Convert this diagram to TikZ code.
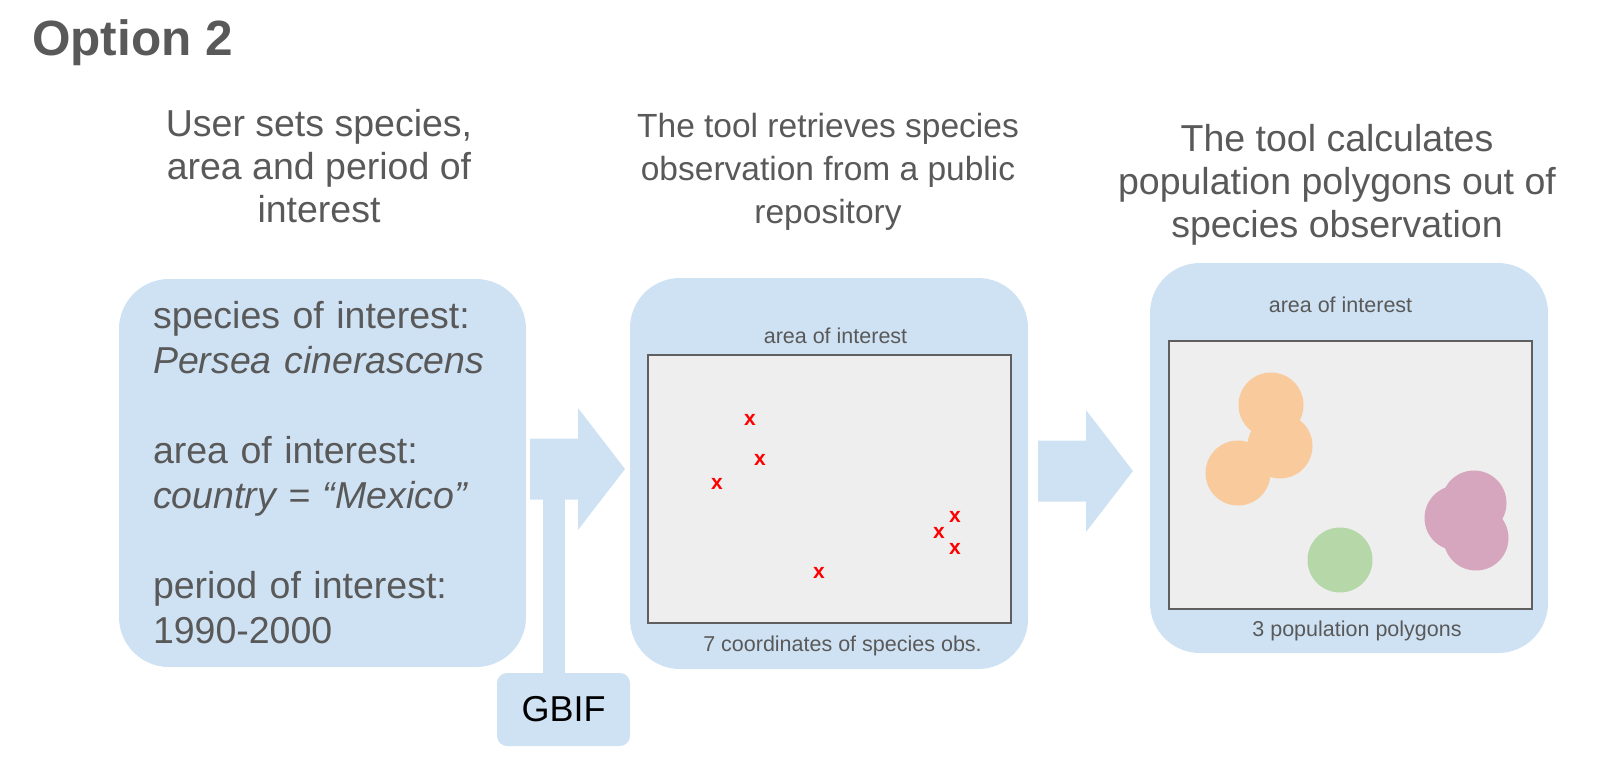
\documentclass[tikz,border=0pt]{standalone}
\usepackage{fontspec}
\setmainfont{Liberation Sans}
\usetikzlibrary{positioning,calc}
\definecolor{cinza}{HTML}{595959}
\definecolor{azul}{HTML}{CFE2F3}
\definecolor{fundo}{HTML}{EEEEEE}
\definecolor{borda}{HTML}{5F5F5F}
\definecolor{laranja}{HTML}{F9CB9C}
\definecolor{verde}{HTML}{B6D7A8}
\definecolor{rosa}{HTML}{D5A6BD}

\begin{document}
\begin{tikzpicture}[x=1pt,y=-1pt,
  caixa/.style={rectangle,rounded corners=50pt,fill=azul,inner sep=0pt},
  mapa/.style={rectangle,fill=fundo,draw=borda,line width=2.5pt,minimum width=363pt,minimum height=268pt},
  titulo/.style={align=center,text=cinza,font=\fontsize{37.5}{43}\selectfont,inner sep=0pt,anchor=north},
  rotulo/.style={text=cinza,font=\fontsize{21.5}{26}\selectfont,inner sep=0pt},
  marca/.style={text=red,font=\fontsize{21}{21}\selectfont\bfseries,inner sep=0pt},
  seta/.style={fill=azul},
  haste/.style={draw=azul,line width=22pt}]
\useasboundingbox (0,0) rectangle (1600,766);
\node[anchor=base west,inner sep=0pt,text=cinza,font=\fontsize{49.5}{50}\selectfont\bfseries] (opcao) at (32,55) {Option 2};
% titles
\node[titulo] (t1) at (319,109) {User sets species,\\area and period of\\interest};
\node[titulo,font=\fontsize{33.5}{43}\selectfont] (t2) at (828,113) {The tool retrieves species\\observation from a public\\repository};
\node[titulo] (t3) at (1337,124) {The tool calculates\\population polygons out of\\species observation};
% boxes
\node[caixa,text=cinza,align=left,text width=339pt,inner xsep=34pt,minimum height=388pt,font=\fontsize{37.5}{45}\selectfont] (user) at (322.5,473)
  {species of interest:\\{\itshape Persea cinerascens}\\[45pt]area of interest:\\{\itshape country = “Mexico”}\\[45pt]period of interest:\\1990-2000};
\node[caixa,minimum width=398pt,minimum height=391pt] (busca) at (829,473.5) {};
\node[caixa,minimum width=398pt,minimum height=390pt] (calculo) at (1349,458) {};
\node[mapa] (m1) at (829.5,489) {};
\node[mapa] (m2) at (1350.5,475) {};
\node[rotulo,above=10pt of m1,xshift=6pt] (a1) {area of interest};
\node[rotulo,below=11pt of m1,xshift=13pt] (c1) {7 coordinates of species obs.};
\node[rotulo,above=27pt of m2,xshift=-10pt] (a2) {area of interest};
\node[rotulo,below=10pt of m2,xshift=6.5pt] (c2) {3 population polygons};
% arrows
\foreach \x/\y in {530/469,1038/471}
  \fill[seta] (\x,\y-30.5) -- (\x+48,\y-30.5) -- (\x+48,\y-61) -- (\x+95,\y) -- (\x+48,\y+61) -- (\x+48,\y+30.5) -- (\x,\y+30.5) -- cycle;
\node[caixa,rounded corners=10pt,minimum width=133pt,minimum height=73pt,font=\fontsize{36}{40}\selectfont] (gbif) at (563.5,709.5) {GBIF};
\coordinate (juncao) at (554,499);
\draw[haste] (gbif.north -| juncao) -- (juncao);
% observations
\foreach \px/\py [count=\i] in {750/420,760/460,717/484,955/517,939/533,955/549,819/573}
  \node[marca] (obs\i) at (\px,\py) {x};
% population polygons
\foreach \px/\py in {1271/405,1280/446,1238/473} \fill[laranja] (\px,\py) circle[radius=32.5pt];
\fill[verde] (1340,560) circle[radius=32.5pt];
\foreach \px/\py in {1474/503,1457/518,1476/538} \fill[rosa] (\px,\py) circle[radius=32.5pt];
\end{tikzpicture}
\end{document}
